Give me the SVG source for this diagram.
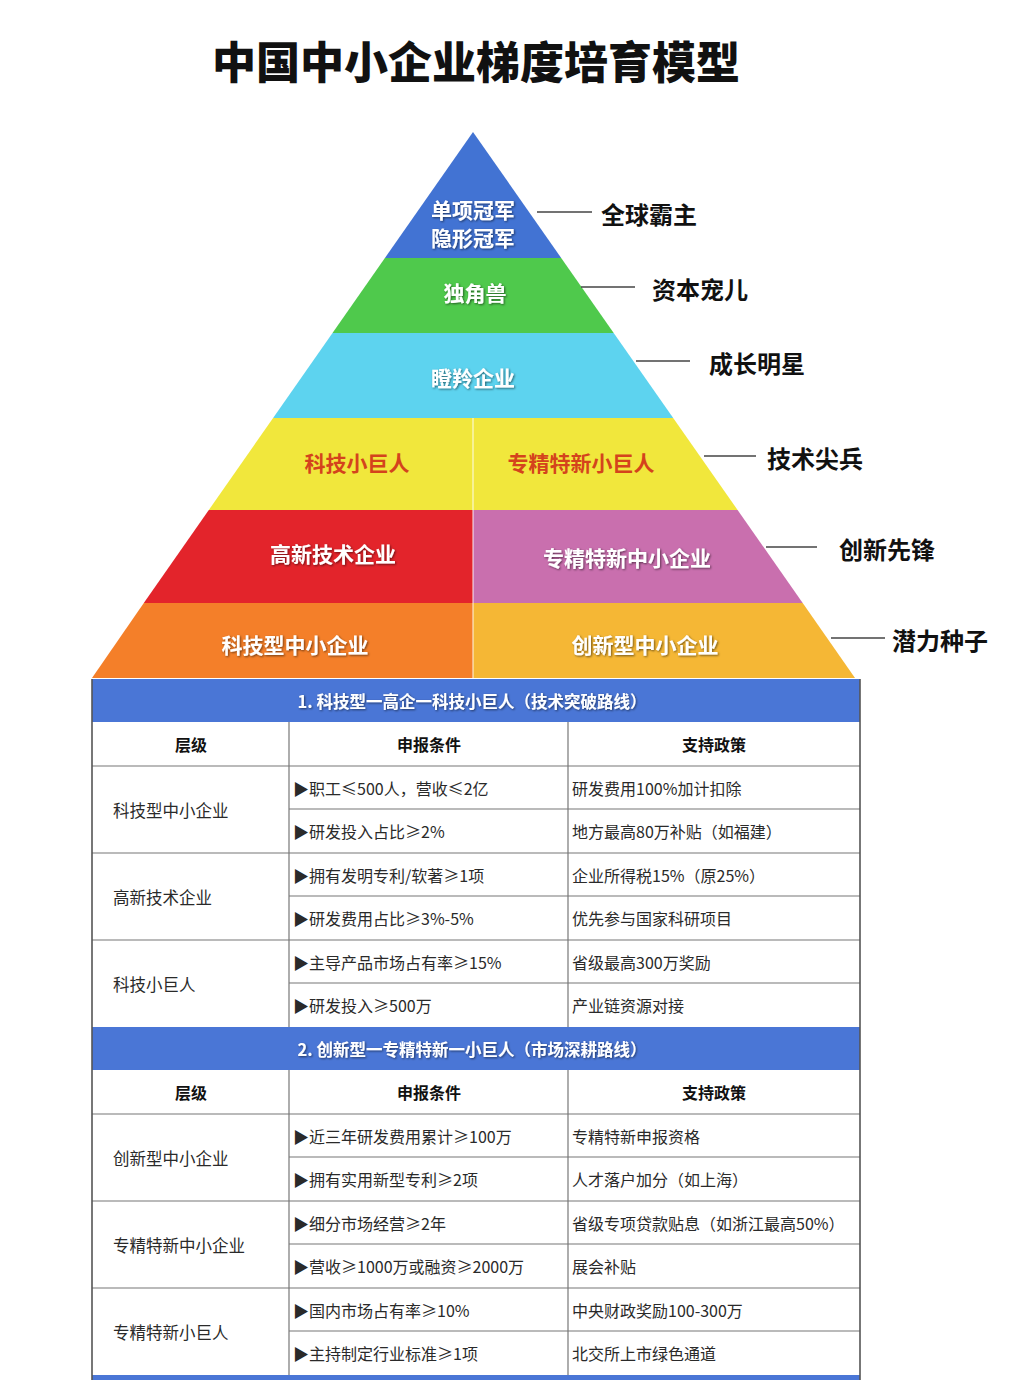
<svg xmlns="http://www.w3.org/2000/svg" width="1031" height="1380" viewBox="0 0 1031 1380">
<defs>
<filter id="sh" x="-10%" y="-30%" width="120%" height="160%">
<feDropShadow dx="1" dy="1" stdDeviation="0.8" flood-color="#000" flood-opacity="0.55"/>
</filter>
<style>
text{font-family:"Noto Sans CJK SC","Noto Sans",sans-serif;}
.title{font-size:44px;font-weight:900;fill:#111;}
.pt{font-size:21px;font-weight:700;fill:#fff;text-anchor:middle;dominant-baseline:central;filter:url(#sh);}
.pr{font-size:21px;font-weight:700;fill:#d4431c;text-anchor:middle;dominant-baseline:central;}
.lab{font-size:24px;font-weight:700;fill:#111;dominant-baseline:central;}
.ll{stroke:#444;stroke-width:1.5;fill:none;}
.band{fill:#4a76d6;}
.bt{font-size:16.5px;font-weight:700;fill:#fff;text-anchor:middle;dominant-baseline:central;filter:url(#sh);}
.ht{font-size:16px;font-weight:700;fill:#111;text-anchor:middle;dominant-baseline:central;}
.ct{font-size:16px;fill:#2a2a2a;dominant-baseline:central;}
.lt{font-size:16.5px;fill:#2a2a2a;dominant-baseline:central;}
.grid{stroke:#777;stroke-width:1.2;fill:none;}
.edge{stroke:#555;stroke-width:1.6;fill:none;}
</style>
</defs>
<rect width="1031" height="1380" fill="#fff"/>
<text class="title" x="476" y="60" text-anchor="middle" dominant-baseline="central">中国中小企业梯度培育模型</text>

<g id="pyramid">
<g id="tier-top">
<polygon points="473,132 561.2,258 384.9,258" fill="#4273d3"/>
<text class="pt" x="473" y="209" font-size="17.5">单项冠军</text>
<text class="pt" x="473" y="237" font-size="17.5">隐形冠军</text>
</g>
<g id="tier-unicorn">
<polygon points="384.9,258 561.2,258 613.7,333 332.5,333" fill="#4fc94c"/>
<text class="pt" x="475" y="292">独角兽</text>
</g>
<g id="tier-gazelle">
<polygon points="332.5,333 613.7,333 673.2,418 273.1,418" fill="#5dd3ef"/>
<text class="pt" x="473" y="377">瞪羚企业</text>
</g>
<g id="tier-kjxjr">
<polygon points="273.1,418 473,418 473,510 208.8,510" fill="#f1e73c"/>
<text class="pr" x="357" y="462">科技小巨人</text>
</g>
<g id="tier-zjtxxjr">
<polygon points="473,418 673.2,418 737.6,510 473,510" fill="#f1e73c"/>
<text class="pr" x="581" y="462">专精特新小巨人</text>
</g>
<g id="tier-gxjs">
<polygon points="208.8,510 473,510 473,603 143.8,603" fill="#e3242b"/>
<text class="pt" x="333" y="553">高新技术企业</text>
</g>
<g id="tier-zjtxzx">
<polygon points="473,510 737.6,510 802.7,603 473,603" fill="#c96fae"/>
<text class="pt" x="627" y="557">专精特新中小企业</text>
</g>
<g id="tier-kjx">
<polygon points="143.8,603 473,603 473,678 92,678" fill="#f47f29"/>
<text class="pt" x="295" y="644">科技型中小企业</text>
</g>
<g id="tier-cxx">
<polygon points="473,603 802.7,603 855,678 473,678" fill="#f5b735"/>
<text class="pt" x="645" y="644" fill="#fff8d8">创新型中小企业</text>
</g>
<line x1="473" y1="418" x2="473" y2="678" stroke="#fff" stroke-opacity="0.6" stroke-width="1.5"/>
</g>

<g id="connectors">
<line class="ll" x1="537" y1="212" x2="592" y2="212"/>
<line class="ll" x1="581" y1="287" x2="635" y2="287"/>
<line class="ll" x1="636" y1="361" x2="690" y2="361"/>
<line class="ll" x1="704" y1="456" x2="756" y2="456"/>
<line class="ll" x1="766" y1="547" x2="817" y2="547"/>
<line class="ll" x1="831" y1="638" x2="885" y2="638"/>
</g>

<g id="labels">
<g id="lab-1"><text class="lab" x="601" y="213">全球霸主</text></g>
<g id="lab-2"><text class="lab" x="652" y="288">资本宠儿</text></g>
<g id="lab-3"><text class="lab" x="709" y="362">成长明星</text></g>
<g id="lab-4"><text class="lab" x="767" y="457">技术尖兵</text></g>
<g id="lab-5"><text class="lab" x="839" y="548">创新先锋</text></g>
<g id="lab-6"><text class="lab" x="892" y="639">潜力种子</text></g>
</g>

<g id="table1">
<rect class="band" x="92" y="679" width="768" height="43"/>
<text class="bt" x="472" y="701">1. 科技型一高企一科技小巨人（技术突破路线）</text>
<g class="grid">
<line x1="92" y1="766" x2="860" y2="766"/>
<line x1="289" y1="809" x2="860" y2="809"/>
<line x1="92" y1="853" x2="860" y2="853"/>
<line x1="289" y1="896" x2="860" y2="896"/>
<line x1="92" y1="940" x2="860" y2="940"/>
<line x1="289" y1="983" x2="860" y2="983"/>
<line x1="289" y1="722" x2="289" y2="1027"/>
<line x1="568" y1="722" x2="568" y2="1027"/>
</g>
<text class="ht" x="191" y="744">层级</text>
<text class="ht" x="429" y="744">申报条件</text>
<text class="ht" x="714" y="744">支持政策</text>
<text class="lt" x="113" y="810">科技型中小企业</text>
<text class="lt" x="113" y="897">高新技术企业</text>
<text class="lt" x="113" y="984">科技小巨人</text>
<text class="ct" x="293" y="788">▶职工≤500人，营收≤2亿</text>
<text class="ct" x="293" y="831">▶研发投入占比≥2%</text>
<text class="ct" x="293" y="875">▶拥有发明专利/软著≥1项</text>
<text class="ct" x="293" y="918">▶研发费用占比≥3%-5%</text>
<text class="ct" x="293" y="962">▶主导产品市场占有率≥15%</text>
<text class="ct" x="293" y="1005">▶研发投入≥500万</text>
<text class="ct" x="572" y="788">研发费用100%加计扣除</text>
<text class="ct" x="572" y="831">地方最高80万补贴（如福建）</text>
<text class="ct" x="572" y="875">企业所得税15%（原25%）</text>
<text class="ct" x="572" y="918">优先参与国家科研项目</text>
<text class="ct" x="572" y="962">省级最高300万奖励</text>
<text class="ct" x="572" y="1005">产业链资源对接</text>
</g>

<g id="table2">
<rect class="band" x="92" y="1027" width="768" height="43"/>
<text class="bt" x="472" y="1049">2. 创新型一专精特新一小巨人（市场深耕路线）</text>
<g class="grid">
<line x1="92" y1="1114" x2="860" y2="1114"/>
<line x1="289" y1="1157" x2="860" y2="1157"/>
<line x1="92" y1="1201" x2="860" y2="1201"/>
<line x1="289" y1="1244" x2="860" y2="1244"/>
<line x1="92" y1="1288" x2="860" y2="1288"/>
<line x1="289" y1="1331" x2="860" y2="1331"/>
<line x1="289" y1="1070" x2="289" y2="1375"/>
<line x1="568" y1="1070" x2="568" y2="1375"/>
</g>
<text class="ht" x="191" y="1092">层级</text>
<text class="ht" x="429" y="1092">申报条件</text>
<text class="ht" x="714" y="1092">支持政策</text>
<text class="lt" x="113" y="1158">创新型中小企业</text>
<text class="lt" x="113" y="1245">专精特新中小企业</text>
<text class="lt" x="113" y="1332">专精特新小巨人</text>
<text class="ct" x="293" y="1136">▶近三年研发费用累计≥100万</text>
<text class="ct" x="293" y="1179">▶拥有实用新型专利≥2项</text>
<text class="ct" x="293" y="1223">▶细分市场经营≥2年</text>
<text class="ct" x="293" y="1266">▶营收≥1000万或融资≥2000万</text>
<text class="ct" x="293" y="1310">▶国内市场占有率≥10%</text>
<text class="ct" x="293" y="1353">▶主持制定行业标准≥1项</text>
<text class="ct" x="572" y="1136">专精特新申报资格</text>
<text class="ct" x="572" y="1179">人才落户加分（如上海）</text>
<text class="ct" x="572" y="1223">省级专项贷款贴息（如浙江最高50%）</text>
<text class="ct" x="572" y="1266">展会补贴</text>
<text class="ct" x="572" y="1310">中央财政奖励100-300万</text>
<text class="ct" x="572" y="1353">北交所上市绿色通道</text>
<rect class="band" x="92" y="1375" width="768" height="5"/>
</g>

<g id="table-border">
<line class="edge" x1="92" y1="679" x2="92" y2="1380"/>
<line class="edge" x1="860" y1="679" x2="860" y2="1380"/>
</g>
</svg>
